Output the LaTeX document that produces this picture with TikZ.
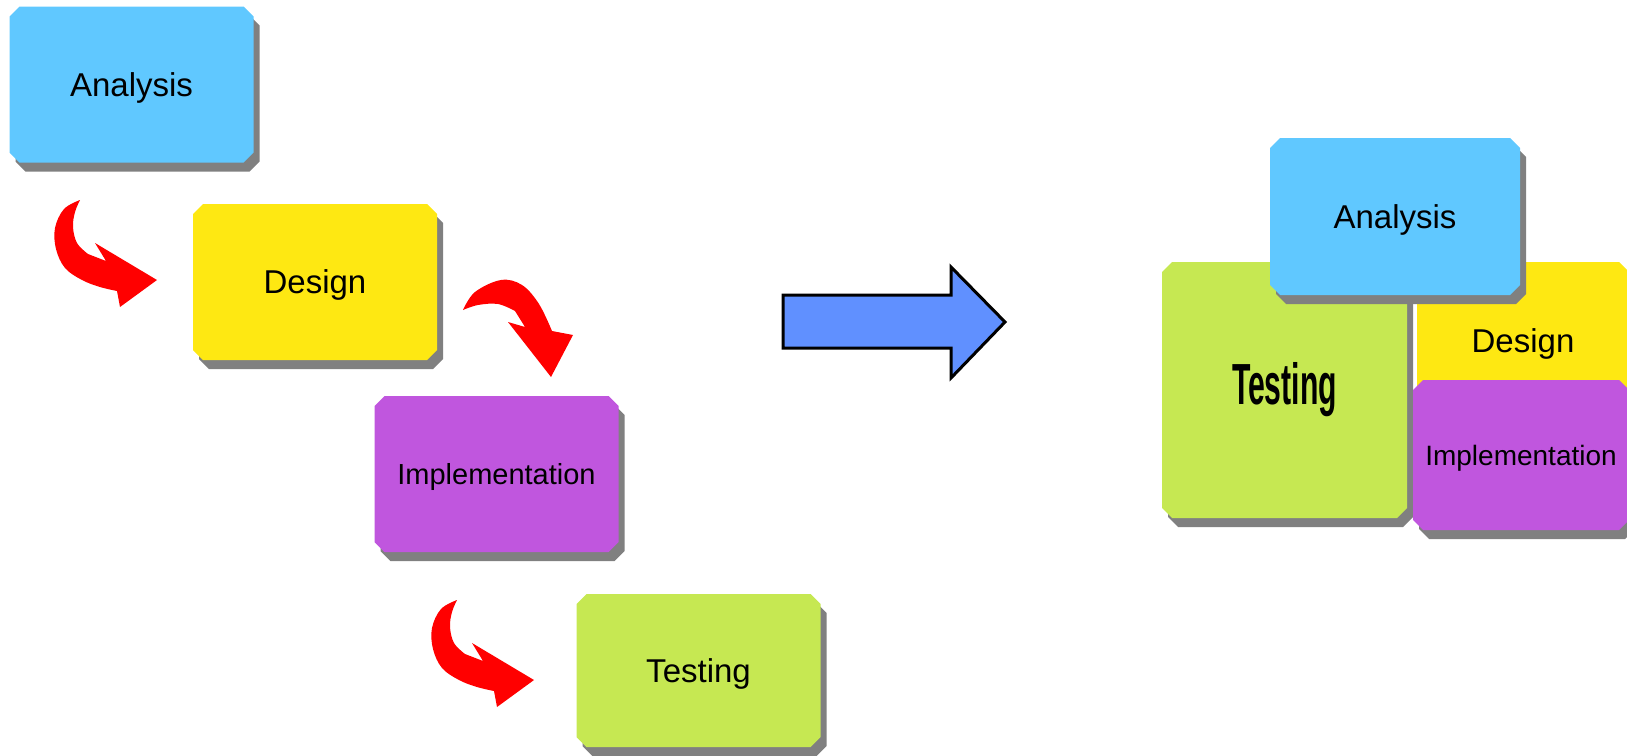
\documentclass[tikz,border=0pt]{standalone}
\usepackage{fontspec}
\usepackage{graphicx}
\setmainfont{Liberation Sans}
\usetikzlibrary{shapes.misc,shadows}

\definecolor{boxblue}{RGB}{96,200,255}
\definecolor{boxyellow}{RGB}{254,232,18}
\definecolor{boxpurple}{RGB}{192,86,222}
\definecolor{boxgreen}{RGB}{198,232,82}
\definecolor{shadowgray}{RGB}{128,128,128}
\definecolor{arrowred}{RGB}{255,0,0}
\definecolor{arrowblue}{RGB}{96,144,255}

\begin{document}
\begin{tikzpicture}[x=1pt,y=-1pt,
  card/.style={chamfered rectangle, chamfered rectangle xsep=5pt,
    chamfered rectangle ysep=5pt, inner sep=0pt,
    minimum width=244pt, minimum height=156pt,
    drop shadow={shadow xshift=6pt, shadow yshift=-9pt, fill=shadowgray, opacity=1},
    font=\fontsize{33}{40}\selectfont, text height=23.6pt, text depth=0pt},
  smalltext/.style={font=\fontsize{29}{35}\selectfont, text height=20.8pt},
  curl/.pic={
    \fill[arrowred] plot[smooth, tension=0.6] coordinates
      {(0,0) (-16,9) (-25,28) (-24,49) (-15,68) (2,80) (20,87) (37,91)}
      -- (40,107) -- (77,80) -- (15,43) -- (26,61)
      -- plot[smooth, tension=0.6] coordinates
      {(8,54) (-3,43) (-7,27) (-5,12) (0,0)} -- cycle;
  }]
\useasboundingbox (0,0) rectangle (1627,755);
\clip (0,0) rectangle (1627,755);

% sequential stages
\node[card, fill=boxblue] (analysisA) at (131.5,84.5) {Analysis};
\node[card, fill=boxyellow] (designA) at (315,282) {Design};
\node[card, fill=boxpurple, smalltext] (implA) at (496.5,474) {Implementation};
\node[card, fill=boxgreen, minimum height=153pt] (testingA) at (698.5,670.5) {Testing};

% curved red arrows between stages
\pic at (80,200) {curl};
\pic at (457,600) {curl};
\fill[arrowred] plot[smooth, tension=0.6] coordinates
    {(463,310) (475,292) (501,280) (522,285) (539,304) (552,331)}
    -- (573,335) -- (551,377) -- (508,322) -- (525,327)
    -- plot[smooth, tension=0.6] coordinates
    {(515,311) (498,304) (478,305) (463,310)} -- cycle;

% big block arrow
\draw[line width=3pt, fill=arrowblue, line join=miter]
  (783,295) -- (951,295) -- (951,267) -- (1005,322) -- (951,378)
  -- (951,348) -- (783,348) -- cycle;

% overlapping stages
\node[card, fill=boxgreen, minimum width=245pt, minimum height=256pt,
  font=\fontsize{58}{64}\selectfont\bfseries, text height=42pt, text depth=14pt]
  (testingB) at (1284.5,390) {\scalebox{0.52}[1]{Testing}};
\node[card, fill=boxyellow, minimum width=212pt, minimum height=158pt]
  (designB) at (1523,341) {Design};
\node[card, fill=boxpurple, minimum width=216pt, minimum height=150pt,
  font=\fontsize{28}{34}\selectfont, text height=20pt]
  (implB) at (1521,455) {Implementation};
\node[card, fill=boxblue, minimum width=250pt, minimum height=157pt]
  (analysisB) at (1395,216.5) {Analysis};
\end{tikzpicture}
\end{document}
